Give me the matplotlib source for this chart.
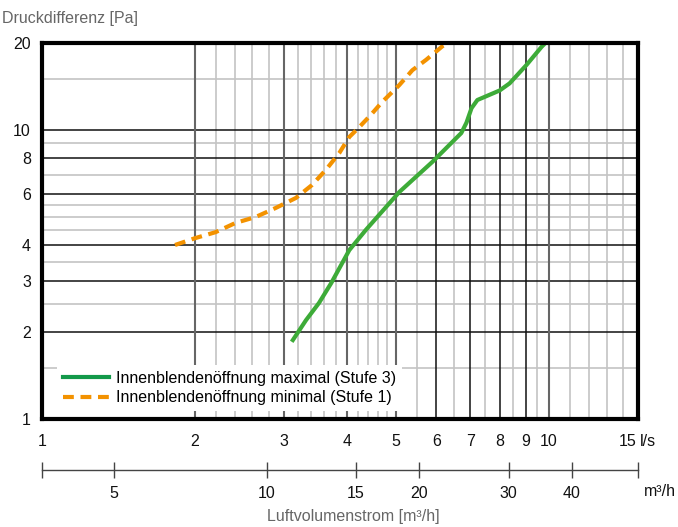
import matplotlib
matplotlib.use("Agg")
import matplotlib.pyplot as plt
from matplotlib.lines import Line2D

plt.rcParams['font.family'] = ['Liberation Sans', 'DejaVu Sans']

# Data (l/s vs Pa)
max_x = [3.11, 3.32, 3.52, 3.72, 4.04, 4.36, 5.07, 5.89, 6.72, 6.88, 7.04, 7.23, 8.0, 8.37, 9.04, 9.68, 9.85]
max_y = [1.85, 2.20, 2.52, 2.95, 3.84, 4.52, 6.10, 7.75, 9.76, 10.6, 11.9, 12.7, 13.7, 14.5, 16.8, 19.4, 20.0]
min_x = [1.83, 2.01, 2.20, 2.41, 2.64, 2.89, 3.17, 3.41, 3.63, 3.86, 4.04, 4.22, 4.46, 4.69, 5.07, 5.38, 5.73, 6.17, 6.35]
min_y = [4.0, 4.23, 4.43, 4.77, 5.0, 5.37, 5.82, 6.45, 7.27, 8.32, 9.46, 10.2, 11.3, 12.5, 14.3, 16.1, 17.5, 19.5, 20.0]

label_max = "Innenblendenöffnung maximal (Stufe 3)"
label_min = "Innenblendenöffnung minimal (Stufe 1)"

x_ticks = [1, 2, 3, 4, 5, 6, 7, 8, 9, 10]
x_major_dark = [2, 3, 4, 5, 10]
x_major_black = [6, 7, 8, 9]
x_minor = [2.2, 2.4, 2.6, 2.8, 3.2, 3.4, 3.6, 3.8, 4.2, 4.4, 4.6, 4.8, 5.5, 6.5, 7.5, 8.5, 9.5, 11, 12, 13, 14]
y_ticks = [1, 2, 3, 4, 6, 8, 10, 20]
y_major = [2, 3, 4, 6, 8, 10]
y_minor = [1.5, 2.5, 3.5, 4.5, 5, 5.5, 7, 9, 15]
m3h_ticks = [5, 10, 15, 20, 30, 40]

GREEN = '#3dab38'
GREEN_LEG = '#13994a'
ORANGE = '#f39200'
FS = 11.5

fig = plt.figure(figsize=(6.78, 5.27), dpi=100)
L, R, T, B = 42/678, 638/678, 1-43/527, 1-419/527
ax = fig.add_axes([L, B, R-L, T-B])
ax.set_xscale('log')
ax.set_yscale('log')
ax.set_xlim(1, 15)
ax.set_ylim(1, 20)

for v in x_minor:
    ax.axvline(v, color='#c4c4c4', lw=1.2, zorder=1)
for v in y_minor:
    ax.axhline(v, color='#c4c4c4', lw=1.2, zorder=1)
for v in y_major:
    ax.axhline(v, color='#111111', lw=1.1, zorder=1.5)
for v in x_major_dark:
    ax.axvline(v, color='#666666', lw=1.5, zorder=1.6)
for v in x_major_black:
    ax.axvline(v, color='#111111', lw=1.1, zorder=1.6)

ax.plot(max_x, max_y, color=GREEN, lw=3.0, solid_capstyle='butt', zorder=3)
ax.plot(min_x, min_y, color=ORANGE, lw=3.0, dashes=(2.6, 1.6), zorder=3)

for s in ax.spines.values():
    s.set_linewidth(3)
    s.set_color('black')
    s.set_zorder(4)

ax.set_xticks(x_ticks)
ax.set_xticklabels([str(v) for v in x_ticks])
ax.set_xticks([], minor=True)
ax.set_yticks(y_ticks)
ax.set_yticklabels([str(v) for v in y_ticks])
ax.set_yticks([], minor=True)
ax.tick_params(axis='both', length=0, labelsize=FS, colors='#111111')
ax.tick_params(axis='x', pad=11)
ax.tick_params(axis='y', pad=8)
fig.text(637/678, 1-441/527, "15", ha='right', va='center', fontsize=FS, color='#111111')
fig.text(640/678, 1-441/527, "l/s", ha='left', va='center', fontsize=FS, color='#111111')

handles = [Line2D([0], [0], color=GREEN_LEG, lw=3.0),
           Line2D([0], [0], color=ORANGE, lw=3.0, dashes=(2.6, 1.6))]
leg = ax.legend(handles, [label_max, label_min], loc='lower left',
                bbox_to_anchor=(0.012, 0.0), frameon=True, fontsize=FS,
                handlelength=2.9, handletextpad=0.45, labelspacing=0.3,
                borderpad=0.35, fancybox=False)
leg.get_frame().set_facecolor('white')
leg.get_frame().set_edgecolor('none')
leg.get_frame().set_alpha(1)
leg.set_zorder(3.5)

# secondary m³/h axis
y_line = 1 - 470/527
ax2 = fig.add_axes([L, y_line, R-L, 0.0001])
ax2.set_xscale('log')
ax2.set_xlim(3.6, 54)
ax2.set_ylim(0, 1)
ax2.patch.set_visible(False)
for k in ['top', 'left', 'right']:
    ax2.spines[k].set_visible(False)
ax2.spines['bottom'].set_color('#444444')
ax2.spines['bottom'].set_linewidth(1.0)
ax2.set_yticks([])
ax2.set_xticks([3.6] + m3h_ticks + [54])
ax2.set_xticklabels([''] + [str(v) for v in m3h_ticks] + [''])
ax2.set_xticks([], minor=True)
ax2.tick_params(axis='x', direction='inout', length=11, width=1.0, color='#444444',
                labelsize=FS, labelcolor='#111111', pad=6)
fig.text(644/678, 1-492/527, "m³/h", ha='left', va='center', fontsize=FS, color='#111111')

fig.text(2/678, 1-18/527, "Druckdifferenz [Pa]", ha='left', va='center', fontsize=FS, color='#666666')
fig.text(353/678, 1-516/527, "Luftvolumenstrom [m³/h]", ha='center', va='center', fontsize=FS, color='#666666')

fig.savefig('out.png', dpi=100)
